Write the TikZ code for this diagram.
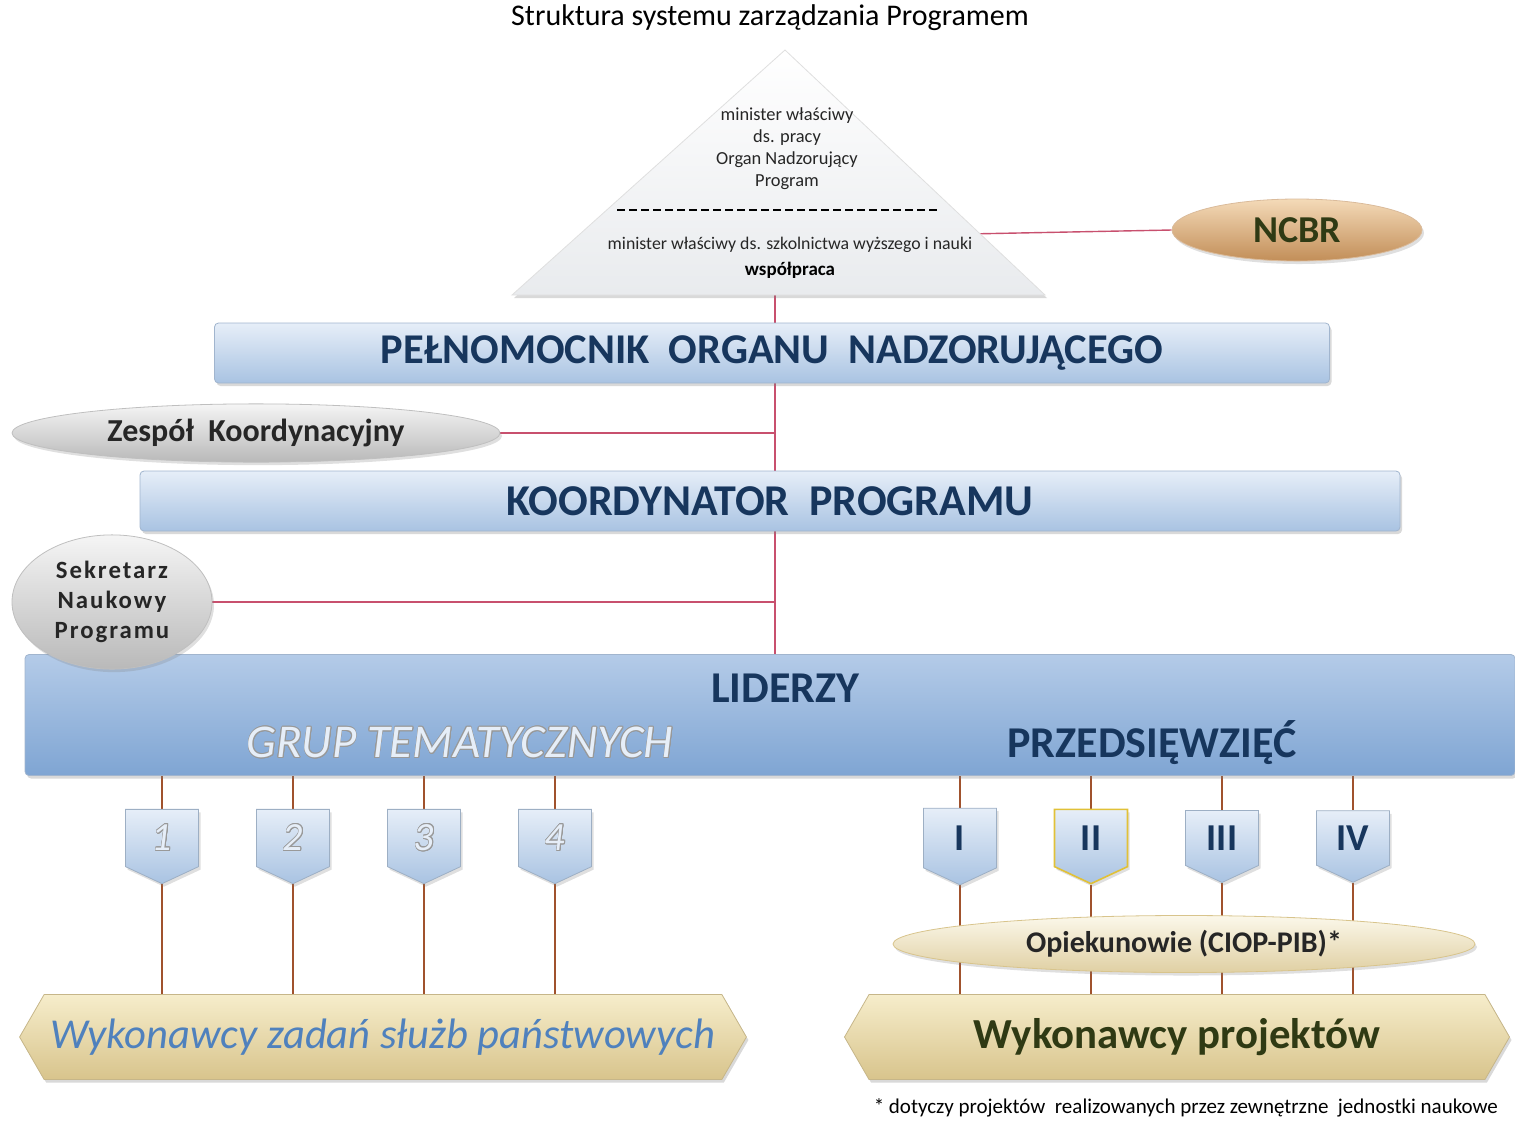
\documentclass[tikz,border=0pt]{standalone}
\usepackage{fontspec}
\setmainfont{Carlito}
\usepackage[copies]{contour}
\contourlength{0.4pt}
\usetikzlibrary{backgrounds}
\usetikzlibrary{shapes,shadows,arrows,positioning,calc}
\definecolor{navy}{HTML}{17365D}
\definecolor{pinkline}{HTML}{C8506E}
\definecolor{brownline}{HTML}{A0522D}
\definecolor{barTop}{HTML}{E6EEF8}
\definecolor{barBot}{HTML}{A9C3E2}
\definecolor{lidTop}{HTML}{B4CBE8}
\definecolor{lidBot}{HTML}{7FA5D3}
\definecolor{sandTop}{HTML}{F6EDCB}
\definecolor{sandBot}{HTML}{D8C48C}
\definecolor{tanTop}{HTML}{F4DAB8}
\definecolor{tanBot}{HTML}{C28E58}
\definecolor{olive}{HTML}{2F3A14}
\definecolor{wblue}{HTML}{4F81BD}
\tikzstyle{link} = [draw=pinkline, line width=0.7pt]
\tikzstyle{leg} = [draw=brownline, line width=1.3pt]
\tikzstyle{bar} = [rectangle, draw=barBot!80!gray, top color=barTop, bottom color=barBot, rounded corners=2pt, minimum height=30pt, text=navy, font=\fontsize{21.5}{24}\selectfont\bfseries, drop shadow={opacity=0.3, shadow xshift=1pt, shadow yshift=-1.5pt}]
\tikzstyle{shieldbox} = [signal, signal to=south, signal pointer angle=130, draw=barBot!70!gray, top color=barTop, bottom color=barBot, minimum width=36.5pt, minimum height=31pt, inner sep=0pt, drop shadow={opacity=0.25, shadow xshift=1pt, shadow yshift=-1.5pt}]
\tikzstyle{band} = [signal, signal to=east and west, signal pointer angle=120, draw=sandBot!80!gray, top color=sandTop, bottom color=sandBot, minimum height=42.5pt, drop shadow={opacity=0.3, shadow xshift=1pt, shadow yshift=-1.5pt}]
\tikzstyle{pill} = [ellipse, draw=gray!50, top color=gray!8, bottom color=gray!55, text=black!85, font=\fontsize{16}{18}\selectfont\bfseries, drop shadow={opacity=0.25, shadow xshift=1pt, shadow yshift=-1.5pt}]
\newcommand{\glow}[1]{\contour{gray!80}{\color{barTop}#1}}

\begin{document}
\begin{tikzpicture}[x=0.5pt, y=-0.5pt]
			\useasboundingbox (0,0) rectangle (1515,1121);
			\node [font=\fontsize{15}{17}\selectfont] (title) at (770,18) {Struktura systemu zarządzania Programem};
			
			% pyramid
			\coordinate (apex) at (785,50);
			\coordinate (baseL) at (512,295);
			\coordinate (baseR) at (1045,295);
			\coordinate (spine) at (775,295);
			\coordinate (triR) at ($(apex)!0.75!(baseR)$);
			\path [draw=gray!25, top color=white, bottom color=barTop!70!gray!40, drop shadow={opacity=0.3, shadow xshift=1pt, shadow yshift=-1.5pt}] (apex) -- (baseR) -- (baseL) -- cycle;
			\node [align=center, text=black!85, font=\fontsize{9.2}{11}\selectfont] (organ) at (787,149) {minister właściwy\\ds. pracy\\Organ Nadzorujący\\Program};
			\coordinate (dashL) at (617,210);
			\coordinate (dashR) at (940,210);
			\draw [line width=1.2pt, dash pattern=on 4pt off 2pt] (dashL) -- (dashR);
			\node [text=black!85, font=\fontsize{8.9}{10}\selectfont] (nauka) at (790,245) {minister właściwy ds. szkolnictwa wyższego i nauki};
			\node [font=\fontsize{9.5}{11}\selectfont\bfseries] (wsp) at (790,270) {współpraca};
			
			\node [pill, top color=tanTop, bottom color=tanBot, draw=tanBot!60, minimum width=125pt, minimum height=31pt, font=\fontsize{19}{21}\selectfont\bfseries, text=olive] (ncbr) at (1297,230) {NCBR};
			
			\node [bar, font=\fontsize{21.2}{24}\selectfont\bfseries, minimum width=557.5pt] (pelnom) at (772,353) {PEŁNOMOCNIK\ \ ORGANU\ \ NADZORUJĄCEGO};
			\node [pill, minimum width=244pt, minimum height=28.5pt] (zespol) at (256,433) {Zespół\ \ Koordynacyjny};
			\node [bar, font=\fontsize{22}{24}\selectfont\bfseries, minimum width=630pt] (koord) at (770,501) {KOORDYNATOR\ \ PROGRAMU};
			
			\node [bar, top color=lidTop, bottom color=lidBot, minimum width=745pt, minimum height=60.5pt] (liderzy) at (770,715) {};
			\node [text=navy, font=\fontsize{22}{24}\selectfont\bfseries] (lidtxt) at (785,688) {LIDERZY};
			\node [font=\fontsize{23.5}{26}\selectfont\itshape] (grup) at (460,743) {\glow{GRUP TEMATYCZNYCH}};
			\node [text=navy, font=\fontsize{22}{24}\selectfont\bfseries] (przed) at (1152,743) {PRZEDSIĘWZIĘĆ};
			\node [pill, minimum width=100pt, minimum height=62pt, align=center, font=\fontsize{12.4}{15}\selectfont\bfseries\addfontfeature{LetterSpace=8}] (sekr) at (112,602) {Sekretarz\\Naukowy\\Programu};
			
			% thematic groups
			\node [shieldbox, font=\fontsize{20}{22}\selectfont\itshape] (g1) at (162,838) {\glow{1}};
			\node [shieldbox, font=\fontsize{20}{22}\selectfont\itshape, right of=g1, node distance=65.5pt] (g2) {\glow{2}};
			\node [shieldbox, font=\fontsize{20}{22}\selectfont\itshape, right of=g2, node distance=65.5pt] (g3) {\glow{3}};
			\node [shieldbox, font=\fontsize{20}{22}\selectfont\itshape, right of=g3, node distance=65.5pt] (g4) {\glow{4}};
			
			% undertakings
			\node [shieldbox, text=navy, font=\fontsize{19}{22}\selectfont\bfseries] (p1) at (960,838) {I};
			\node [shieldbox, text=navy, font=\fontsize{19}{22}\selectfont\bfseries, draw=yellow!50!brown, line width=0.8pt, right of=p1, node distance=65.5pt] (p2) {II};
			\node [shieldbox, text=navy, font=\fontsize{19}{22}\selectfont\bfseries, right of=p2, node distance=65.5pt] (p3) {III};
			\node [shieldbox, text=navy, font=\fontsize{19}{22}\selectfont\bfseries, right of=p3, node distance=65.5pt] (p4) {IV};
			
			\node [pill, top color=sandTop!40, bottom color=sandBot!80, draw=sandBot, minimum width=291pt, minimum height=26pt, font=\fontsize{15}{17}\selectfont\bfseries] (opiek) at (1184,944) {Opiekunowie (CIOP-PIB)*};
			
			\node [band, minimum width=361.5pt, text=wblue, font=\fontsize{21.3}{24}\selectfont\itshape] (wykL) at (383,1037) {Wykonawcy zadań służb państwowych};
			\node [band, minimum width=332.5pt, text=olive, font=\fontsize{21.4}{24}\selectfont\bfseries] (wykR) at (1177,1037) {Wykonawcy projektów};
			
			\node [anchor=east, font=\fontsize{10.5}{12}\selectfont] (note) at (1505,1108) {* dotyczy projektów\ \ realizowanych przez zewnętrzne\ \ jednostki naukowe};
			
			\begin{scope}[on background layer]
				\draw [link] (triR) -- (ncbr.west);
				\draw [link] (spine) -- (spine |- pelnom.north);
				\draw [link] (spine |- pelnom.south) -- (spine |- koord.north);
				\draw [link] (spine |- koord.south) -- (spine |- liderzy.north);
				\draw [link] (zespol.east) -- (zespol.east -| spine);
				\draw [link] (sekr.east) -- (sekr.east -| spine);
				\draw [leg] (g1 |- liderzy.south) -- (g1.north);
				\draw [leg] (g2 |- liderzy.south) -- (g2.north);
				\draw [leg] (g3 |- liderzy.south) -- (g3.north);
				\draw [leg] (g4 |- liderzy.south) -- (g4.north);
				\draw [leg] (g1.south) -- (g1 |- wykL.north);
				\draw [leg] (g2.south) -- (g2 |- wykL.north);
				\draw [leg] (g3.south) -- (g3 |- wykL.north);
				\draw [leg] (g4.south) -- (g4 |- wykL.north);
				\draw [leg] (p1 |- liderzy.south) -- (p1.north);
				\draw [leg] (p2 |- liderzy.south) -- (p2.north);
				\draw [leg] (p3 |- liderzy.south) -- (p3.north);
				\draw [leg] (p4 |- liderzy.south) -- (p4.north);
				\draw [leg] (p1.south) -- (p1 |- wykR.north);
				\draw [leg] (p2.south) -- (p2 |- wykR.north);
				\draw [leg] (p3.south) -- (p3 |- wykR.north);
				\draw [leg] (p4.south) -- (p4 |- wykR.north);
			\end{scope}
		\end{tikzpicture}
\end{document}
